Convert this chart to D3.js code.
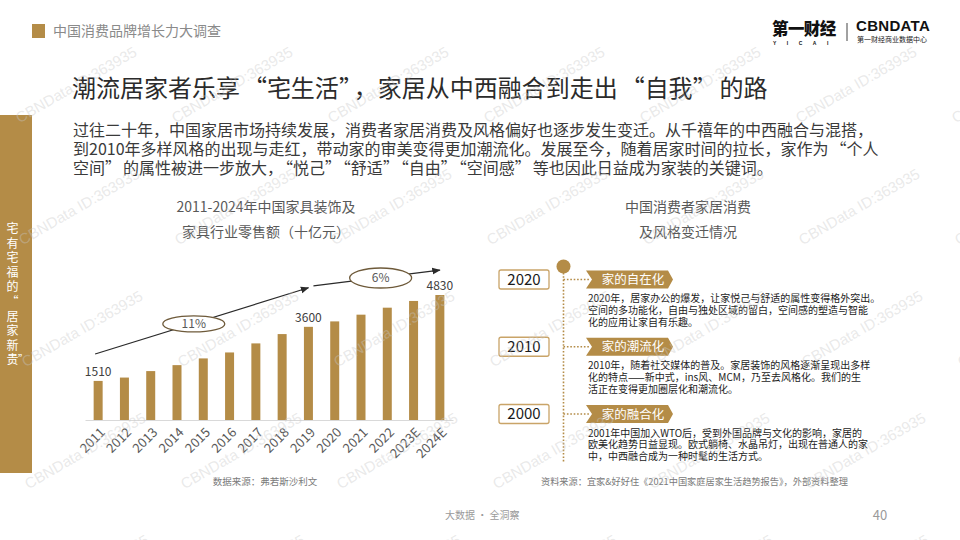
<!DOCTYPE html>
<html><head><meta charset="utf-8">
<script src="https://cdn.jsdelivr.net/npm/d3@7"></script>
<style>body{margin:0;background:#fff}svg{display:block}</style>
</head><body>
<svg id="c" width="960" height="540"></svg>
<script>
// ---------- data ----------
const years = ["2011","2012","2013","2014","2015","2016","2017","2018","2019","2020","2021","2022","2023E","2024E"];
const sales = [1510,1640,1890,2120,2380,2610,2960,3320,3600,3810,4070,4340,4600,4830];
const labelledYears = ["2011","2019","2024E"];
const growthFrom = ["2011","2019"];
const growthTo = ["2019","2024E"];
const growthStart = [2550,5185];
const growthEnd = [5110,5790];
const growthRate = ["11%","6%"];

const periods = ["2020","2010","2000"];
const tags = ["家的自在化","家的潮流化","家的融合化"];
const descriptions = [
  ["2020年，居家办公的爆发，让家悦己与舒适的属性变得格外突出。","空间的多功能化，自由与独处区域的留白，空间感的塑造与智能","化的应用让家自有乐趣。"],
  ["2010年，随着社交媒体的普及。家居装饰的风格逐渐呈现出多样","化的特点——新中式，ins风、MCM，乃至去风格化。我们的生","活正在变得更加圈层化和潮流化。"],
  ["2001年中国加入WTO后，受到外国品牌与文化的影响，家居的","欧美化趋势日益显现。欧式躺椅、水晶吊灯，出现在普通人的家","中，中西融合成为一种时髦的生活方式。"]
];

const headerText = "中国消费品牌增长力大调查";
const titleText = "潮流居家者乐享“宅生活”，家居从中西融合到走出“自我”的路";
const introLines = [
  "过往二十年，中国家居市场持续发展，消费者家居消费及风格偏好也逐步发生变迁。从千禧年的中西融合与混搭，",
  "到2010年多样风格的出现与走红，带动家的审美变得更加潮流化。发展至今，随着居家时间的拉长，家作为“个人",
  "空间”的属性被进一步放大，“悦己”“舒适”“自由”“空间感”等也因此日益成为家装的关键词。"
];
const sidebarText = "宅有宅福的“居家新贵”";
const leftTitle = ["2011-2024年中国家具装饰及","家具行业零售额（十亿元）"];
const rightTitle = ["中国消费者家居消费","及风格变迁情况"];
const leftSource = "数据来源：弗若斯沙利文";
const rightSource = "资料来源：宜家&好好住《2021中国家庭居家生活趋势报告》，外部资料整理";
const footerText = "大数据 · 全洞察";
const pageNo = "40";
const watermark = "CBNData ID:363935";

// ---------- styles ----------
const GOLD = "#b48c47";
const FONT = "'Noto Sans CJK SC','Noto Sans',sans-serif";
const svg = d3.select("#c").style("font-family", FONT);

// text runs with slightly wider curly quotes
function runs(sel, str){
  const parts = str.split(/(“|”)/).filter(s=>s.length);
  let afterClose = false;
  parts.forEach(s=>{
    const t = sel.append("tspan").text(s);
    if (s === "“" || afterClose) t.attr("dx","0.12em");
    afterClose = (s === "”");
  });
  return sel;
}

// header
svg.append("rect").attr("x",32).attr("y",24).attr("width",13).attr("height",14).attr("fill",GOLD);
svg.append("text").attr("x",53).attr("y",31.5).attr("dy","0.35em").attr("font-size",14).attr("fill","#8a8a8a").text(headerText);

// logo
svg.append("text").attr("x",772).attr("y",29.5).attr("dy","0.35em").attr("font-size",16.5).attr("font-weight",900).attr("fill","#111").attr("letter-spacing",-0.6).text("第一财经");
svg.append("text").attr("x",773).attr("y",43).attr("dy","0.35em").attr("font-size",5).attr("font-weight",700).attr("fill","#111").attr("letter-spacing",10.5).attr("font-family","'Liberation Sans',sans-serif").text("YICAI");
svg.append("line").attr("x1",847).attr("x2",847).attr("y1",23).attr("y2",41).attr("stroke","#444").attr("stroke-width",1);
svg.append("text").attr("x",856).attr("y",25.5).attr("dy","0.35em").attr("font-size",15).attr("font-weight",700).attr("fill","#111").attr("font-family","'Liberation Sans',sans-serif").attr("letter-spacing",0.3).text("CBNDATA");
svg.append("text").attr("x",857).attr("y",39.5).attr("dy","0.35em").attr("font-size",7).attr("fill","#222").text("第一财经商业数据中心");

// title
runs(svg.append("text").attr("x",72).attr("y",89).attr("dy","0.35em").attr("font-size",24).attr("fill","#2b2b2b"), titleText);

// intro paragraph
introLines.forEach((l,i)=>{
  runs(svg.append("text").attr("x",73).attr("y",130+i*19).attr("dy","0.35em")
    .attr("font-size",16).attr("fill","#3a3a3a"), l);
});

// sidebar
svg.append("rect").attr("x",0).attr("y",115).attr("width",32).attr("height",358).attr("fill",GOLD);
const sideChars = Array.from(sidebarText);
let sy = 229;
sideChars.forEach((ch,i)=>{
  if (ch === "”" && i === sideChars.length-1) {
    svg.append("text").attr("x",23).attr("y",sy-14.56-1).attr("dy","0.35em").attr("font-size",10).attr("fill","#fff").attr("text-anchor","middle").text(ch);
  } else {
    svg.append("text").attr("x",12.5).attr("y",sy).attr("dy","0.35em").attr("font-size",12).attr("fill","#fff").attr("text-anchor","middle").text(ch);
    sy += 14.56;
  }
});

// ---------- bar chart ----------
const x = d3.scalePoint().domain(years).range([85,453]).padding(0.5);
const y = d3.scaleLinear().domain([0,4830]).range([420,295]);

svg.append("g").selectAll("text").data(leftTitle).join("text")
  .attr("x",266).attr("y",(d,i)=>207+i*25).attr("dy","0.35em").attr("text-anchor","middle")
  .attr("font-size",14).attr("fill","#595959").text(d=>d);

svg.append("g").selectAll("rect").data(years).join("rect")
  .attr("x",d=>x(d)-4.5).attr("width",9)
  .attr("y",(d,i)=>y(sales[i])).attr("height",(d,i)=>y(0)-y(sales[i]))
  .attr("fill",GOLD);

const ax = svg.append("g").attr("transform",`translate(0,${y(0)})`)
  .call(d3.axisBottom(x).tickSize(0).tickSizeOuter(0));
ax.select(".domain").attr("stroke","#d9d9d9").attr("stroke-width",1.2);
ax.selectAll(".tick text")
  .attr("x",0).attr("y",0).attr("dy","0.35em")
  .attr("transform","translate(4,10) rotate(-45)")
  .attr("text-anchor","end").attr("font-size",13).attr("fill","#595959").attr("font-family",FONT);

svg.append("g").selectAll("text").data(labelledYears).join("text")
  .attr("x",d=>x(d)).attr("y",d=>y(sales[years.indexOf(d)])-5)
  .attr("text-anchor","middle").attr("font-size",12).attr("fill","#404040").text(d=>sales[years.indexOf(d)]);

// growth arrows
const defs = svg.append("defs");
defs.append("marker").attr("id","arr").attr("viewBox","0 0 10 10").attr("refX",9).attr("refY",5)
  .attr("markerWidth",7).attr("markerHeight",7).attr("orient","auto")
  .append("path").attr("d","M0,1 L10,5 L0,9 Z").attr("fill","#2a2a2a");

growthRate.forEach((r,i)=>{
  const x0 = x(growthFrom[i]) + (i===0 ? -3 : 5);
  const x1 = x(growthTo[i]);
  const y0 = y(growthStart[i]), y1 = y(growthEnd[i]);
  svg.append("line").attr("x1",x0).attr("y1",y0).attr("x2",x1).attr("y2",y1)
    .attr("stroke","#2a2a2a").attr("stroke-width",1.2).attr("marker-end","url(#arr)");
  const cx = (x0+x1)/2 + (i===0?-8:4), cy = (y0+y1)/2 + (i===0?3:0);
  svg.append("ellipse").attr("cx",cx).attr("cy",cy).attr("rx",31).attr("ry",i===0?8:10)
    .attr("fill","#fff").attr("stroke","#6e5a3a").attr("stroke-width",1.3);
  svg.append("text").attr("x",cx).attr("y",cy).attr("dy","0.35em").attr("text-anchor","middle")
    .attr("font-size",12).attr("fill","#595959").text(r);
});

svg.append("text").attr("x",265).attr("y",482).attr("dy","0.35em").attr("text-anchor","middle")
  .attr("font-size",9.5).attr("fill","#7a7a7a").text(leftSource);

// ---------- timeline ----------
svg.append("g").selectAll("text").data(rightTitle).join("text")
  .attr("x",688).attr("y",(d,i)=>207+i*25).attr("dy","0.35em").attr("text-anchor","middle")
  .attr("font-size",14).attr("fill","#595959").text(d=>d);

const row = d3.scalePoint().domain(periods).range([279.5,414]);
const axisX = 563.5;
svg.append("line").attr("x1",axisX).attr("x2",axisX).attr("y1",266).attr("y2",462)
  .attr("stroke",GOLD).attr("stroke-width",1.6).attr("stroke-dasharray","1.6,1.8");
svg.append("circle").attr("cx",axisX).attr("cy",266.5).attr("r",7).attr("fill",GOLD);

const rows = svg.append("g").selectAll("g").data(periods).join("g")
  .attr("transform",d=>`translate(0,${row(d)})`);
rows.append("line").attr("x1",axisX).attr("x2",590).attr("y1",0).attr("y2",0)
  .attr("stroke",GOLD).attr("stroke-width",1.6).attr("stroke-dasharray","1.6,1.8");
rows.append("rect").attr("x",499).attr("y",-9.5).attr("width",50).attr("height",19).attr("rx",2)
  .attr("fill","#fff").attr("stroke","#c9a468").attr("stroke-width",1.3);
rows.append("text").attr("x",524).attr("y",0).attr("dy","0.36em").attr("text-anchor","middle")
  .attr("font-size",15).attr("fill","#1a1a1a").text(d=>d);
rows.append("path").attr("d","M586,-9 L668,-9 L673,0 L668,9 L586,9 L592,0 Z").attr("fill",GOLD);
rows.append("text").attr("x",633).attr("y",0).attr("dy","0.36em").attr("text-anchor","middle")
  .attr("font-size",12.5).attr("fill","#fff").text((d,i)=>tags[i]);
rows.each(function(d,i){
  d3.select(this).selectAll("text.desc").data(descriptions[i]).join("text").attr("class","desc")
    .attr("x",588).attr("y",(t,k)=>19+k*11.8).attr("dy","0.35em")
    .attr("font-size",10).attr("fill","#1c1c1c").text(t=>t);
});

svg.append("text").attr("x",541).attr("y",482).attr("dy","0.35em")
  .attr("font-size",9.2).attr("fill","#7a7a7a").text(rightSource);

// footer
svg.append("text").attr("x",445).attr("y",515).attr("dy","0.35em").attr("font-size",10).attr("fill","#9a9a9a").text(footerText);
svg.append("text").attr("x",880).attr("y",515).attr("dy","0.35em").attr("text-anchor","middle").attr("font-size",13).attr("fill","#9a9a9a").text(pageNo);

// watermark
const wm = svg.append("g").attr("pointer-events","none");
for (let j=0;j<5;j++){
  for (let i=-1;i<7;i++){
    const ex = 138 + 156*i + 3*j, ey = 55 + 122*j;
    wm.append("text").attr("transform",`translate(${ex},${ey}) rotate(-30)`)
      .attr("text-anchor","end").attr("font-size",15).attr("font-family","'Liberation Sans',Arial,sans-serif")
      .attr("fill","#c8c8c8").attr("fill-opacity",0.4).text(watermark);
  }
}
</script>
</body></html>
